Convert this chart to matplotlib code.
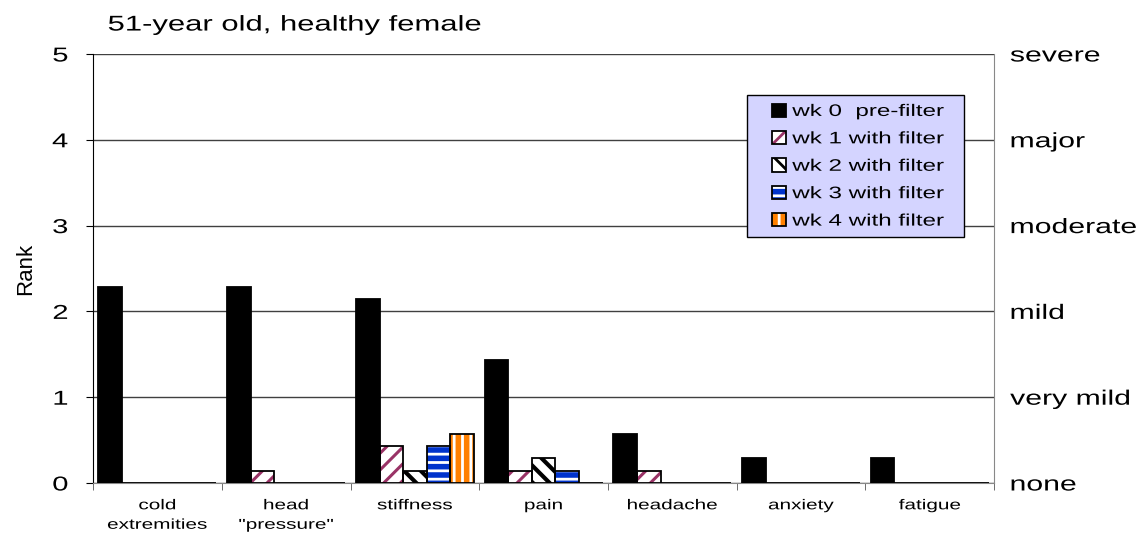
import numpy as np
import matplotlib
matplotlib.use("Agg")
import matplotlib.pyplot as plt
from matplotlib.legend_handler import HandlerTuple, HandlerPatch
from matplotlib.patches import Rectangle
from matplotlib.patheffects import AbstractPathEffect
from matplotlib.transforms import Affine2D

plt.rcParams['font.family'] = ['Liberation Sans', 'DejaVu Sans']

categories = ['cold\nextremities', 'head\n"pressure"', 'stiffness', 'pain',
              'headache', 'anxiety', 'fatigue']
series = ['wk 0  pre-filter', 'wk 1 with filter', 'wk 2 with filter',
          'wk 3 with filter', 'wk 4 with filter']
wk0 = [2.29, 2.29, 2.14, 1.43, 0.57, 0.29, 0.29]
wk1 = [0.0, 0.14, 0.43, 0.14, 0.14, 0.0, 0.0]
wk2 = [0.0, 0.0, 0.14, 0.29, 0.0, 0.0, 0.0]
wk3 = [0.0, 0.0, 0.43, 0.14, 0.0, 0.0, 0.0]
wk4 = [0.0, 0.0, 0.57, 0.0, 0.0, 0.0, 0.0]
severity = ['none', 'very mild', 'mild', 'moderate', 'major', 'severe']

values = [wk0, wk1, wk2, wk3, wk4]
# face colour, hatch colour, hatch, hatch linewidth
styles = [('black', 'black', None, 1.0),
          ('white', '#993366', '//', 2.2),
          ('white', 'black', '\\\\', 3.0),
          ('#0033CC', 'white', '--', 2.0),
          ('#FF8000', 'white', '||', 2.0)]


# the original chart text looks horizontally stretched, fake it
class StretchX(AbstractPathEffect):
    def __init__(self, anchor=0.0, sx=1.45):
        super().__init__()
        self.anchor = anchor
        self.sx = sx

    def draw_path(self, renderer, gc, tpath, affine, rgbFace=None):
        ext = tpath.get_extents()
        px = ext.x0 + self.anchor * ext.width
        t = Affine2D().translate(-px, 0).scale(self.sx, 1).translate(px, 0) + affine
        renderer.draw_path(gc, tpath, t, rgbFace)


def square_patch(legend, orig_handle, xdescent, ydescent, width, height, fontsize):
    return Rectangle((-xdescent + width - height, -ydescent), height, height)


fig = plt.figure(figsize=(11.4, 5.33), dpi=100)
ax = fig.add_axes([0.0816, 0.0938, 0.7905, 0.8049])

x = np.arange(len(categories))
w = 0.183
handles = []
for i, vals in enumerate(values):
    fc, hc, hatch, hlw = styles[i]
    plt.rcParams['hatch.linewidth'] = hlw
    pos = x + (i - 2) * w
    b1 = ax.bar(pos, vals, w, color=fc, edgecolor=hc, hatch=hatch,
                linewidth=0, zorder=3)
    for p in b1:
        if hasattr(p, 'set_hatch_linewidth'):
            p.set_hatch_linewidth(hlw)
    b2 = ax.bar(pos, vals, w, fill=False, edgecolor='black',
                linewidth=1.3, zorder=4)
    handles.append((b1[0], b2[0]))

ax.set_xlim(-0.5, len(categories) - 0.5)
ax.set_ylim(0, 5)
ax.set_yticks(range(6))
ax.set_xticks(x)
ax.set_xticklabels(categories, fontsize=10.3, linespacing=1.5)
ax.set_xticks(np.arange(-0.5, len(categories)), minor=True)
ax.tick_params(axis='x', which='major', length=0, pad=11)
ax.tick_params(axis='x', which='minor', length=5, direction='out', color='#555555')
ax.tick_params(axis='y', length=5, direction='out', labelsize=14.5, pad=13)
ax.grid(axis='y', color='#404040', linewidth=1, zorder=0)
ax.set_axisbelow(True)
ax.spines['top'].set_visible(False)
ax.spines['right'].set_color('#888888')
ax.spines['bottom'].set_color('#888888')
ax.set_ylabel('Rank', fontsize=16, labelpad=15)

for t in ax.get_xticklabels():
    t.set_path_effects([StretchX(0.5)])
for t in ax.get_yticklabels():
    t.set_path_effects([StretchX(1.0)])

ax2 = ax.twinx()
ax2.set_ylim(0, 5)
ax2.set_yticks(range(6))
ax2.set_yticklabels(severity, fontsize=15)
ax2.tick_params(axis='y', length=0, pad=11.5)
for s in ax2.spines.values():
    s.set_visible(False)
for t in ax2.get_yticklabels():
    t.set_path_effects([StretchX(0.0)])

leg = ax.legend(handles, series,
                handler_map={tuple: HandlerTuple(ndivide=1),
                             Rectangle: HandlerPatch(patch_func=square_patch)},
                loc='upper left', bbox_to_anchor=(0.726, 0.573, 0.240, 0.331),
                mode='expand', borderaxespad=0, fontsize=12, fancybox=False,
                facecolor='#D4D4FF', edgecolor='black', framealpha=1,
                handlelength=1.8, handleheight=0.85, handletextpad=0.4,
                labelspacing=0.72, borderpad=0.5)
leg.get_frame().set_linewidth(1)
leg.set_zorder(10)
for t in leg.get_texts():
    t.set_path_effects([StretchX(0.0)])

title = fig.text(0.0947, 0.953, '51-year old, healthy female', fontsize=15.4, va='center')
title.set_path_effects([StretchX(0.0)])

fig.savefig('out.png', dpi=100)
